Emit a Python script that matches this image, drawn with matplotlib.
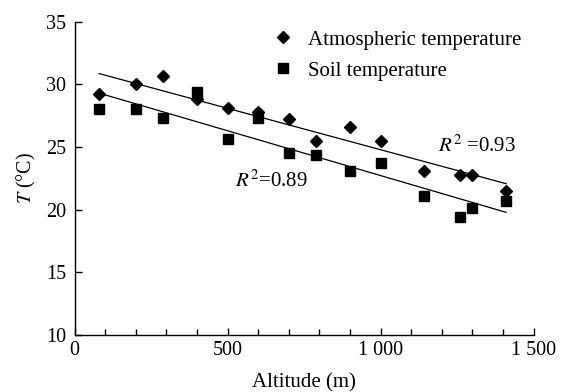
import matplotlib
matplotlib.use("Agg")
import matplotlib.pyplot as plt
from matplotlib.ticker import MultipleLocator, FixedLocator
import numpy as np

# values
altitude = [80, 200, 290, 400, 500, 600, 700, 790, 900, 1000, 1140, 1260, 1300, 1410]
atmos_t = [29.2, 30.0, 30.7, 28.8, 28.1, 27.8, 27.2, 25.5, 26.6, 25.5, 23.1, 22.8, 22.8, 21.5]
soil_t = [28.0, 28.0, 27.3, 29.4, 25.6, 27.3, 24.5, 24.4, 23.1, 23.7, 21.1, 19.4, 20.1, 20.7]
r2_labels = [r"$R^2$ =0.93", r"$R^2$=0.89"]

xticks = [0, 500, 1000, 1500]
xticklabels = ["0", "500", "1 000", "1 500"]

plt.rcParams["font.family"] = ["Liberation Serif", "DejaVu Serif"]
plt.rcParams["mathtext.fontset"] = "stix"

fig = plt.figure(figsize=(5.62, 3.92), dpi=100)
ax = fig.add_axes([0.1329, 0.1454, 0.8167, 0.7993])

x = np.array(altitude)
ax.plot(x, atmos_t, "D", color="black", ms=5.8, ls="none", label="Atmospheric temperature")
ax.plot(x, soil_t, "s", color="black", ms=6.8, ls="none", label="Soil temperature")

# linear fits
xx = np.array([x.min(), x.max()])
for ys in (atmos_t, soil_t):
    k, b = np.polyfit(x, ys, 1)
    ax.plot(xx, k * xx + b, color="black", lw=0.9)

ax.text(1187, 25.1, r2_labels[0], fontsize=15, va="center", ha="left")
ax.text(524, 22.3, r2_labels[1], fontsize=15, va="center", ha="left")

ax.set_xlim(0, 1500)
ax.set_ylim(10, 35)
ax.xaxis.set_major_locator(FixedLocator(xticks))
ax.set_xticklabels(xticklabels)
ax.xaxis.set_minor_locator(MultipleLocator(100))
ax.yaxis.set_major_locator(MultipleLocator(5))

for s in ("top", "right"):
    ax.spines[s].set_visible(False)
for s in ("left", "bottom"):
    ax.spines[s].set_linewidth(1.0)

ax.tick_params(axis="both", which="both", direction="in", width=1.0)
ax.tick_params(axis="x", which="major", length=5, pad=4.5, labelsize=14.5)
ax.tick_params(axis="x", which="minor", length=4)
ax.tick_params(axis="y", which="major", length=5, pad=6, labelsize=14.5)

ax.set_xlabel("Altitude (m)", fontsize=15, labelpad=9)
ax.set_ylabel(r"$T$ (°C)", fontsize=14.5, labelpad=6)

ax.legend(loc="upper left", bbox_to_anchor=(0.412, 1.0), frameon=False,
          fontsize=15, handletextpad=0.7, labelspacing=0.55,
          handlelength=1.0, borderaxespad=0)

fig.savefig("out.png", dpi=100)
